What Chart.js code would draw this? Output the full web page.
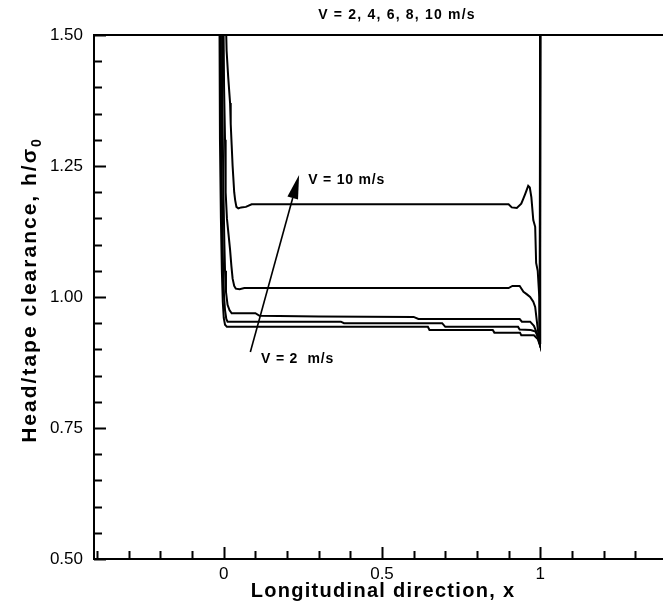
<!DOCTYPE html>
<html>
<head>
<meta charset="utf-8">
<title>Head/tape clearance</title>
<script src="https://cdn.jsdelivr.net/npm/chart.js@4.4.1/dist/chart.umd.min.js"></script>
<style>
  html, body { margin: 0; padding: 0; background: #fff; overflow: hidden; }
  canvas { display: block; }
</style>
</head>
<body>
<canvas id="clearance" width="680" height="609"></canvas>
<script>
"use strict";

// tape speeds, one profile per speed
var speeds = [2, 4, 6, 8, 10];
var xTickValues = [0, 0.5, 1];
var yTickValues = [0.5, 0.75, 1.0, 1.25, 1.5];

// [x, h/sigma0] along the head, from leading edge (x = 0) to trailing edge (x = 1)
var curveV2 = [
    [-0.014, 1.6], [-0.012, 1.3], [-0.009, 1.15], [-0.006, 1.05], [-0.003, 0.99],
    [0.0, 0.96], [0.004, 0.947], [0.01, 0.943], [0.645, 0.943], [0.65, 0.937],
    [0.85, 0.937], [0.855, 0.932], [0.936, 0.932], [0.94, 0.927], [0.98, 0.927],
    [0.992, 0.92], [0.999, 0.908], [1.0, 1.6]
];
var curveV4 = [
    [-0.01, 1.6], [-0.008, 1.3], [-0.005, 1.15], [-0.002, 1.05], [0.001, 1.0],
    [0.004, 0.975], [0.008, 0.958], [0.012, 0.953], [0.37, 0.953], [0.38, 0.95],
    [0.69, 0.95], [0.7, 0.943], [0.93, 0.943], [0.935, 0.938], [0.97, 0.937],
    [0.985, 0.934], [0.995, 0.92], [0.999, 0.91], [1.0, 1.6]
];
var curveV6 = [
    [-0.006, 1.6], [-0.004, 1.35], [-0.001, 1.2], [0.002, 1.1], [0.004, 1.05],
    [0.007, 1.01], [0.012, 0.985], [0.018, 0.975], [0.025, 0.969], [0.1, 0.969],
    [0.113, 0.964], [0.3, 0.963], [0.6, 0.962], [0.615, 0.958], [0.935, 0.958],
    [0.942, 0.953], [0.968, 0.953], [0.98, 0.945], [0.99, 0.93], [0.998, 0.912],
    [1.0, 1.6]
];
var curveV8 = [
    [-0.002, 1.6], [0.001, 1.4], [0.004, 1.3], [0.006, 1.2], [0.01, 1.15],
    [0.015, 1.12], [0.02, 1.09], [0.024, 1.06], [0.028, 1.035], [0.033, 1.021],
    [0.038, 1.016], [0.05, 1.015], [0.065, 1.017], [0.9, 1.017], [0.912, 1.021],
    [0.935, 1.021], [0.947, 1.01], [0.958, 1.005], [0.968, 1.0], [0.978, 0.991],
    [0.984, 0.981], [0.99, 0.95], [0.996, 0.92], [0.999, 0.912], [1.0, 1.6]
];
var curveV10 = [
    [0.004, 1.6], [0.009, 1.47], [0.014, 1.42], [0.02, 1.37], [0.022, 1.33],
    [0.025, 1.29], [0.028, 1.25], [0.03, 1.23], [0.033, 1.2], [0.036, 1.185],
    [0.04, 1.172], [0.046, 1.169], [0.055, 1.171], [0.07, 1.172], [0.088, 1.177],
    [0.9, 1.177], [0.91, 1.171], [0.926, 1.17], [0.94, 1.178], [0.946, 1.187],
    [0.952, 1.196], [0.957, 1.204], [0.962, 1.212], [0.967, 1.209], [0.972, 1.19],
    [0.978, 1.147], [0.984, 1.134], [0.987, 1.065], [0.992, 1.05], [0.997, 1.0],
    [0.998, 0.93], [1.0, 0.91], [1.0, 1.6]
];
var curves = [curveV2, curveV4, curveV6, curveV8, curveV10];

// arrow from the slowest to the fastest profile, in data units
var arrowTail = [0.084, 0.895];
var arrowTip = [0.238, 1.233];

var FONT = '"Liberation Sans", Arial, Helvetica, sans-serif';

function drawSpaced(ctx, text, x, y, spacing) {
    if ('letterSpacing' in ctx) {
        ctx.letterSpacing = spacing + 'px';
    }
    ctx.fillText(text, x, y);
}

// frame plus inward pointing major/minor ticks
var frameTicks = {
    id: 'frameTicks',
    afterDatasetsDraw: function (chart) {
        var ctx = chart.ctx;
        var a = chart.chartArea;
        var xs = chart.scales.x;
        var ys = chart.scales.y;
        var i, p, len;
        ctx.save();
        ctx.strokeStyle = '#000';
        ctx.lineWidth = 2;
        ctx.strokeRect(a.left, a.top, a.right - a.left, a.bottom - a.top);
        ctx.beginPath();
        for (i = -4; i <= 14; i++) {
            p = Math.round(xs.getPixelForValue(i / 10)) + 0.5;
            len = (i % 5 === 0) ? 12 : 8;
            ctx.moveTo(p, a.bottom);
            ctx.lineTo(p, a.bottom - len);
        }
        for (i = 10; i <= 30; i++) {
            p = Math.round(ys.getPixelForValue(i / 20)) + 0.5;
            len = (i % 5 === 0) ? 12 : 8;
            ctx.moveTo(a.left, p);
            ctx.lineTo(a.left + len, p);
        }
        ctx.stroke();
        ctx.restore();
    }
};

// titles, arrow and the two speed labels
var annotations = {
    id: 'annotations',
    afterDraw: function (chart) {
        var ctx = chart.ctx;
        var xs = chart.scales.x;
        var ys = chart.scales.y;
        ctx.save();
        ctx.fillStyle = '#000';
        ctx.strokeStyle = '#000';

        // arrow
        var x0 = xs.getPixelForValue(arrowTail[0]);
        var y0 = ys.getPixelForValue(arrowTail[1]);
        var x1 = xs.getPixelForValue(arrowTip[0]);
        var y1 = ys.getPixelForValue(arrowTip[1]);
        var ang = Math.atan2(y1 - y0, x1 - x0);
        var headLen = 24, headHalf = 5.5;
        var bx = x1 - headLen * Math.cos(ang);
        var by = y1 - headLen * Math.sin(ang);
        ctx.lineWidth = 1.6;
        ctx.beginPath();
        ctx.moveTo(x0, y0);
        ctx.lineTo(bx, by);
        ctx.stroke();
        ctx.beginPath();
        ctx.moveTo(x1, y1);
        ctx.lineTo(bx + headHalf * Math.sin(ang), by - headHalf * Math.cos(ang));
        ctx.lineTo(bx - headHalf * Math.sin(ang), by + headHalf * Math.cos(ang));
        ctx.closePath();
        ctx.fill();

        // speed labels
        ctx.font = 'bold 14px ' + FONT;
        ctx.textBaseline = 'middle';
        ctx.textAlign = 'left';
        drawSpaced(ctx, 'V = ' + speeds[4] + ' m/s', xs.getPixelForValue(0.267), ys.getPixelForValue(1.223), 0.8);
        drawSpaced(ctx, 'V = ' + speeds[0] + '  m/s', xs.getPixelForValue(0.118), ys.getPixelForValue(0.882), 0.8);

        // plot title
        ctx.textAlign = 'center';
        ctx.textBaseline = 'alphabetic';
        drawSpaced(ctx, 'V = ' + speeds.join(', ') + ' m/s', 397, 19, 1.2);

        // x axis title
        ctx.font = 'bold 20px ' + FONT;
        drawSpaced(ctx, 'Longitudinal direction, x', 383, 597, 1.3);

        // y axis title with subscript
        var main = 'Head/tape clearance, h/\u03c3';
        ctx.translate(36, 290);
        ctx.rotate(-Math.PI / 2);
        ctx.textAlign = 'left';
        ctx.font = 'bold 21px ' + FONT;
        if ('letterSpacing' in ctx) { ctx.letterSpacing = '2px'; }
        var wMain = ctx.measureText(main).width;
        ctx.font = 'bold 14px ' + FONT;
        var wSub = ctx.measureText('0').width;
        var start = -(wMain + wSub) / 2;
        ctx.font = 'bold 21px ' + FONT;
        ctx.fillText(main, start, 0);
        ctx.font = 'bold 14px ' + FONT;
        ctx.fillText('0', start + wMain, 5);
        ctx.restore();
    }
};

new Chart(document.getElementById('clearance'), {
    type: 'scatter',
    data: {
        datasets: curves.map(function (pts, i) {
            return {
                label: 'V = ' + speeds[i] + ' m/s',
                data: pts.map(function (p) { return {x: p[0], y: p[1]}; }),
                showLine: true,
                borderColor: '#000',
                borderWidth: 2,
                pointRadius: 0,
                tension: 0,
                fill: false
            };
        })
    },
    options: {
        responsive: false,
        animation: false,
        layout: {padding: {top: 35, right: 10, left: 0, bottom: 0}},
        plugins: {
            legend: {display: false},
            tooltip: {enabled: false}
        },
        scales: {
            x: {
                type: 'linear',
                min: -0.41,
                max: 1.41,
                grid: {display: false, drawTicks: false},
                border: {display: false},
                afterBuildTicks: function (scale) {
                    scale.ticks = xTickValues.map(function (v) { return {value: v}; });
                },
                afterFit: function (scale) { scale.height = 50; },
                ticks: {
                    color: '#000',
                    padding: 5,
                    maxRotation: 0,
                    font: {family: FONT, size: 17},
                    callback: function (v) { return String(v); }
                }
            },
            y: {
                type: 'linear',
                min: 0.5,
                max: 1.5,
                grid: {display: false, drawTicks: false},
                border: {display: false},
                afterBuildTicks: function (scale) {
                    scale.ticks = yTickValues.map(function (v) { return {value: v}; });
                },
                afterFit: function (scale) { scale.width = 94; },
                ticks: {
                    color: '#000',
                    padding: 11,
                    font: {family: FONT, size: 17},
                    callback: function (v) { return Number(v).toFixed(2); }
                }
            }
        }
    },
    plugins: [frameTicks, annotations]
});
</script>
</body>
</html>
